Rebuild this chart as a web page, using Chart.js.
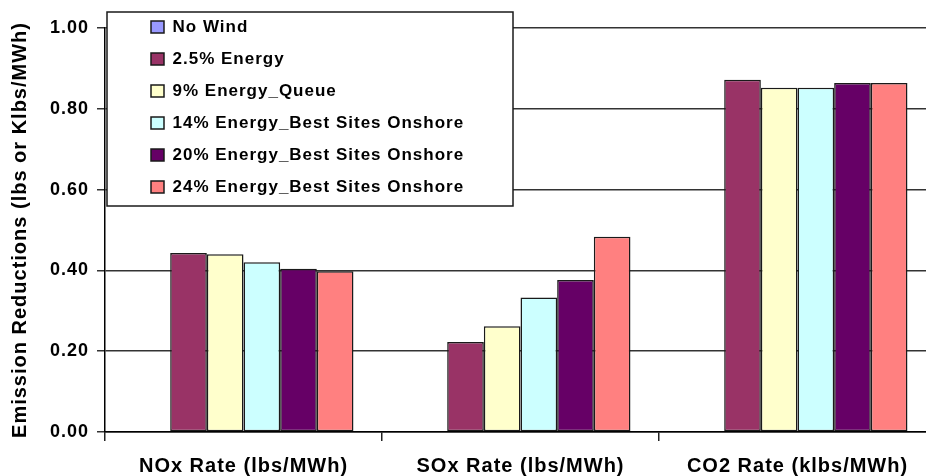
<!DOCTYPE html>
<html>
<head>
<meta charset="utf-8">
<script src="https://cdn.jsdelivr.net/npm/chart.js@4.4.1/dist/chart.umd.min.js"></script>
<style>
  html, body { margin: 0; padding: 0; background: #fff; }
  #wrap { width: 926px; height: 476px; overflow: hidden; position: relative; }
  canvas { display: block; }
</style>
</head>
<body>
<div id="wrap"><canvas id="c" width="940" height="476"></canvas></div>
<script>
// Emission reduction rates per wind scenario
const categories = ['NOx Rate (lbs/MWh)', 'SOx Rate (lbs/MWh)', 'CO2 Rate (klbs/MWh)'];
const seriesNames = [
  'No Wind',
  '2.5% Energy',
  '9% Energy_Queue',
  '14% Energy_Best Sites Onshore',
  '20% Energy_Best Sites Onshore',
  '24% Energy_Best Sites Onshore'
];
const noWind      = [0, 0, 0];
const energy2_5   = [0.443, 0.223, 0.872];
const energy9     = [0.440, 0.262, 0.852];
const energy14    = [0.420, 0.333, 0.852];
const energy20    = [0.404, 0.376, 0.864];
const energy24    = [0.398, 0.483, 0.864];
const yTickValues = [0, 0.2, 0.4, 0.6, 0.8, 1.0];
const yTitle = 'Emission Reductions (lbs or Klbs/MWh)';

const seriesValues = [noWind, energy2_5, energy9, energy14, energy20, energy24];
const seriesColors = ['#9999FF', '#993366', '#FFFFCC', '#CCFFFF', '#660066', '#FF8080'];

Chart.defaults.font.family = '"Liberation Sans", Arial, sans-serif';
Chart.defaults.font.weight = 'bold';
Chart.defaults.color = '#000';

// wide, slightly spaced lettering used throughout
const spacing = {
  id: 'spacing',
  beforeUpdate(chart) { chart.ctx.letterSpacing = '1px'; },
  beforeLayout(chart) { chart.ctx.letterSpacing = '1px'; },
  beforeDraw(chart) { chart.ctx.letterSpacing = '1px'; }
};

// white framed panel behind the legend, drawn above the grid
const legendFrame = {
  id: 'legendFrame',
  beforeInit(chart) {
    const box = {
      position: 'chartArea', weight: 0, fullSize: false, options: {},
      isHorizontal() { return false; },
      update() {},
      draw() {
        const ctx = chart.ctx;
        ctx.save();
        ctx.fillStyle = '#fff';
        ctx.fillRect(107, 12, 406, 194);
        ctx.strokeStyle = '#1a1a1a';
        ctx.lineWidth = 1.5;
        ctx.strokeRect(107, 12, 406, 194);
        ctx.restore();
      },
      _layers() { return [{ z: -0.5, draw: () => box.draw() }]; }
    };
    Chart.layouts.addBox(chart, box);
  },
  afterLayout(chart) {
    const lg = chart.legend;
    if (!lg) return;
    lg.left = 136; lg.top = 3.5; lg.right = 520; lg.bottom = 215;
    lg.width = lg.right - lg.left; lg.height = lg.bottom - lg.top;
  }
};

const datasets = seriesNames.map((name, i) => ({
  label: name,
  data: seriesValues[i],
  backgroundColor: seriesColors[i],
  borderColor: '#1a1a1a',
  borderWidth: 1.5,
  borderSkipped: false,
  categoryPercentage: 0.794,
  barPercentage: 1.0
}));

new Chart(document.getElementById('c'), {
  type: 'bar',
  data: { labels: categories, datasets },
  plugins: [spacing, legendFrame],
  options: {
    responsive: false,
    animation: false,
    layout: { padding: { top: 28, right: 4, left: 0, bottom: 0 } },
    plugins: {
      tooltip: { enabled: false },
      legend: {
        position: 'chartArea',
        align: 'start',
        labels: {
          boxWidth: 13,
          boxHeight: 12,
          padding: 15,
          color: '#000',
          font: { size: 17, weight: 'bold' }
        }
      }
    },
    scales: {
      x: {
        offset: true,
        grid: { offset: true, drawOnChartArea: false, color: '#222', lineWidth: 1.5, tickLength: 9 },
        border: { color: '#000', width: 1.5 },
        ticks: { padding: 13, font: { size: 20, weight: 'bold' }, maxRotation: 0 },
        afterFit(scale) { scale.height = 44; }
      },
      y: {
        min: 0,
        max: 1,
        afterBuildTicks(scale) { scale.ticks = yTickValues.map(v => ({ value: v })); },
        grid: { color: '#333', lineWidth: 1.5, tickLength: 8 },
        border: { color: '#000', width: 1.5 },
        ticks: {
          padding: 8,
          font: { size: 18, weight: 'bold' },
          callback: v => Number(v).toFixed(2)
        },
        title: {
          display: true,
          text: yTitle,
          font: { size: 20, weight: 'bold' },
          padding: { top: 8, bottom: 0 }
        },
        afterFit(scale) { scale.width = 105; }
      }
    }
  }
});
</script>
</body>
</html>
